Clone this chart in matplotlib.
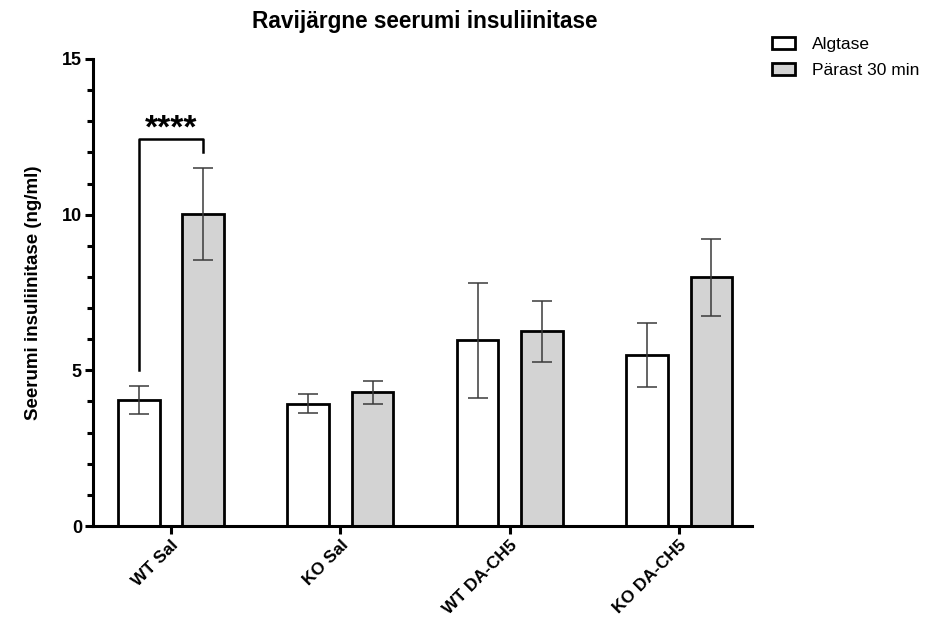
import numpy as np
import matplotlib.pyplot as plt
import matplotlib.transforms as mtrans
from matplotlib.ticker import MultipleLocator

plt.rcParams['font.family'] = ['Liberation Sans', 'DejaVu Sans']

groups = ["WT Sal", "KO Sal", "WT DA-CH5", "KO DA-CH5"]
baseline = [4.05, 3.93, 5.96, 5.50]
baseline_err = [0.45, 0.31, 1.86, 1.02]
after30 = [10.02, 4.29, 6.25, 7.99]
after30_err = [1.47, 0.38, 0.97, 1.24]
series_names = ["Algtase", "Pärast 30 min"]

x = np.arange(len(groups))
w = 0.245
off = 0.19

fig = plt.figure(figsize=(9.34, 6.32), dpi=100)
ax = fig.add_axes([0.0996, 0.1677, 0.7055, 0.739])

errkw = dict(ecolor="#3a3a3a", elinewidth=1.1, capsize=7.5, capthick=1.1)
ax.bar(x - off, baseline, w, yerr=baseline_err, color="white", edgecolor="black",
       linewidth=2, label=series_names[0], error_kw=errkw, zorder=2)
ax.bar(x + off, after30, w, yerr=after30_err, color="#d3d3d3", edgecolor="black",
       linewidth=2, label=series_names[1], error_kw=errkw, zorder=2)

# significance bracket WT Sal
y_top = 12.43
ax.plot([x[0] - off, x[0] - off, x[0] + off, x[0] + off],
        [baseline[0] + 0.95, y_top, y_top, y_top - 0.43], color="black", lw=1.8)
ax.text(x[0], 12.48, "****", ha="center", va="baseline", fontsize=24, fontweight="bold")

ax.set_xlim(-0.46, 3.43)
ax.set_ylim(0, 15)
ax.yaxis.set_major_locator(MultipleLocator(5))
ax.yaxis.set_minor_locator(MultipleLocator(1))
ax.set_xticks(x)
ax.set_xticklabels(groups, rotation=45, ha="right", va="top", rotation_mode="anchor",
                   fontsize=12.5, fontweight="bold")
shift = mtrans.ScaledTranslation(3 / 100, -2 / 100, fig.dpi_scale_trans)
for t in ax.get_xticklabels():
    t.set_transform(t.get_transform() + shift)
for t in ax.get_yticklabels():
    t.set_fontweight("bold")
    t.set_fontsize(13)

for s in ["top", "right"]:
    ax.spines[s].set_visible(False)
for s in ["left", "bottom"]:
    ax.spines[s].set_linewidth(2.2)
ax.tick_params(axis="both", which="major", width=2.2, length=6, pad=2)
ax.tick_params(axis="y", which="minor", width=2.2, length=4.5)

ax.set_ylabel("Seerumi insuliinitase (ng/ml)", fontsize=13.5, fontweight="bold", labelpad=14)
fig.text(0.4545, 0.966, "Ravijärgne seerumi insuliinitase", ha="center", va="center",
         fontsize=16.3, fontweight="bold")

leg = ax.legend(loc="upper left", bbox_to_anchor=(1.006, 1.08), frameon=False, fontsize=12.5,
                handlelength=1.33, handleheight=0.69, labelspacing=0.6, handletextpad=1.0)

fig.savefig("out.png", dpi=100)
